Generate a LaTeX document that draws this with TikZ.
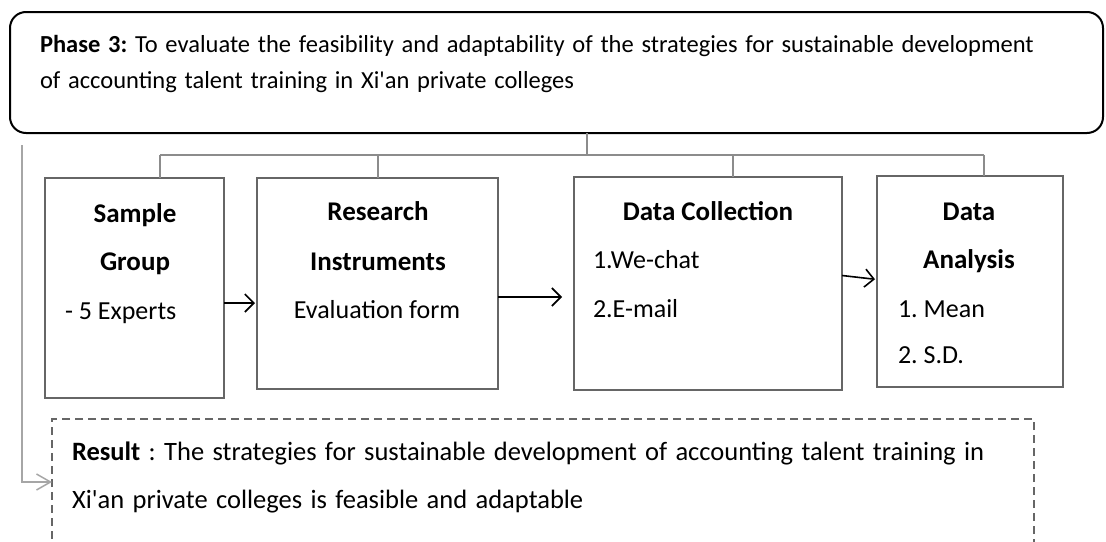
\documentclass[tikz,border=0pt]{standalone}
\usepackage{fontspec}
\setmainfont{Carlito}
\newfontfamily\widefont{Carlito}[WordSpace=1.4]
\usepackage{xcolor}
\usetikzlibrary{arrows.meta,positioning}
\definecolor{boxgray}{HTML}{666666}
\definecolor{linkgray}{HTML}{8C8C8C}
\definecolor{sidegray}{HTML}{A6A6A6}
\tikzstyle{arrow}=[draw, line width=1.6pt, -{Straight Barb[length=9pt,width=18pt]}]
\frenchspacing

\begin{document}
\begin{tikzpicture}[x=1pt, y=1pt,
                every node/.style={inner sep=0pt, outer sep=0pt},
                stagebox/.style={draw=boxgray, line width=2pt, anchor=north west},
                boxtitle/.style={anchor=base, font=\fontsize{27}{27}\selectfont\bfseries},
                boxitem/.style={anchor=base west, font=\fontsize{26}{26}\selectfont},
                bodytext/.style={anchor=base west, font=\widefont\fontsize{24.5}{24.5}\selectfont},
                resulttext/.style={anchor=base west, font=\widefont\fontsize{26.5}{26.5}\selectfont},
                link/.style={draw=linkgray, line width=1.3pt}
            ]

                \useasboundingbox (0,0) rectangle (1106,-541);

                % Define Nodes
                \node (phase) [draw, line width=2pt, rounded corners=16pt, minimum width=1093pt, minimum height=121pt, anchor=north west] at (10,-12) {};
                \node (phase1) [bodytext] at (40,-52) {\textbf{Phase 3:} To evaluate the feasibility and adaptability of the strategies for sustainable development};
                \node (phase2) [bodytext] at (40,-88) {of accounting talent training in Xi\textquotesingle an private colleges};

                \node (sample) [stagebox, minimum width=179pt, minimum height=220pt] at (45,-178) {};
                \node (research) [stagebox, minimum width=241pt, minimum height=211pt] at (257,-178) {};
                \node (collection) [stagebox, minimum width=268pt, minimum height=213pt] at (574,-177) {};
                \node (analysis) [stagebox, minimum width=186pt, minimum height=211pt] at (877,-176) {};

                \node (sample1) [boxtitle] at (135,-222) {Sample};
                \node (sample2) [boxtitle] at (135,-270) {Group};
                \node (sample3) [boxitem] at (65,-319) {- 5 Experts};

                \node (research1) [boxtitle] at (378,-220) {Research};
                \node (research2) [boxtitle] at (378,-270) {Instruments};
                \node (research3) [boxitem, anchor=base] at (377,-318) {Evaluation form};

                \node (collection1) [boxtitle] at (708,-220) {Data Collection};
                \node (collection2) [boxitem] at (593,-268) {1.We-chat};
                \node (collection3) [boxitem] at (593,-317) {2.E-mail};

                \node (analysis1) [boxtitle] at (969,-220) {Data};
                \node (analysis2) [boxtitle] at (969,-268) {Analysis};
                \node (analysis3) [boxitem] at (898,-317) {1. Mean};
                \node (analysis4) [boxitem] at (898,-363) {2. S.D.};

                \node (result) [draw=boxgray, line width=1.5pt, dash pattern=on 8pt off 5pt, minimum width=982pt, minimum height=160pt, anchor=north west] at (52,-419) {};
                \node (result1) [resulttext] at (72,-460) {\textbf{Result} : The strategies for sustainable development of accounting talent training in};
                \node (result2) [resulttext] at (72,-508) {Xi\textquotesingle an private colleges is feasible and adaptable};

                % Branch lines from the phase box
                \coordinate (bus) at (587,-155);
                \coordinate (drop1) at (160,-155);
                \coordinate (drop2) at (378,-155);
                \coordinate (drop3) at (733,-155);
                \coordinate (drop4) at (984,-155);
                \draw[link] (bus |- phase.south) -- (bus);
                \draw[link] (drop1) -- (drop4);
                \draw[link] (drop1) -- (drop1 |- sample.north);
                \draw[link] (drop2) -- (drop2 |- research.north);
                \draw[link] (drop3) -- (drop3 |- collection.north);
                \draw[link] (drop4) -- (drop4 |- analysis.north);

                % Draw Arrows
                \draw[arrow, shorten >=2pt] ([yshift=-15pt]sample.east) -- ([yshift=-15pt]sample.east -| research.west);
                \draw[arrow, shorten >=12pt] ([yshift=-13.5pt]research.east) -- ([yshift=-13.5pt]research.east -| collection.west);
                \draw[arrow, shorten >=2pt] ([yshift=8pt]collection.east) -- ([yshift=2pt]analysis.west);

                % Side line down to the result
                \coordinate (side) at (22,-145);
                \draw[draw=sidegray, line width=1.5pt, -{Straight Barb[length=14pt,width=16pt]}] (side) |- ([yshift=17pt]result.west);

            \end{tikzpicture}
\end{document}
